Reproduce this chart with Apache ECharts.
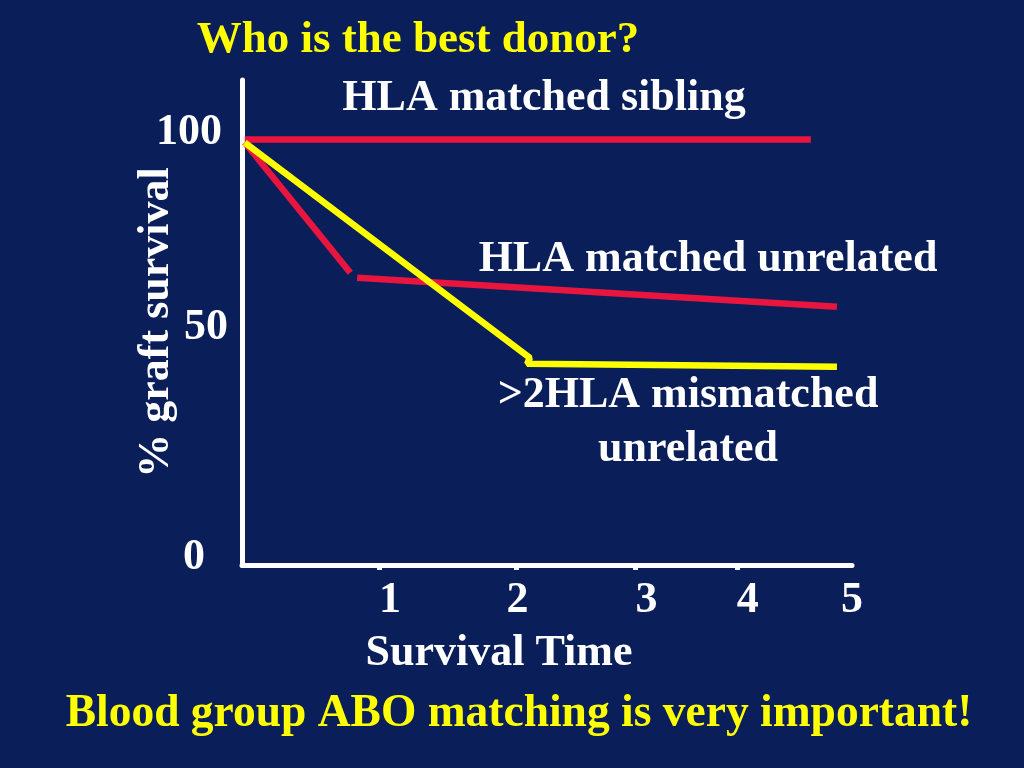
<!DOCTYPE html>
<html>
<head>
<meta charset="utf-8">
<script src="https://cdn.jsdelivr.net/npm/echarts@6/dist/echarts.min.js"></script>
<style>
html,body{margin:0;padding:0;background:#0a1e5a;}
#chart{width:1024px;height:768px;}
</style>
</head>
<body>
<div id="chart"></div>
<script>
// Series data: [time position on axis, % graft survival]
const siblingData   = [[0.02, 100], [4.15, 100]];
const unrelatedData = [[0.02, 99.3], [0.79, 68.7], [0.8, null], [0.84, 67.5], [4.34, 60.7]];
const mismatchData  = [[0.02, 99.3], [2.10, 48.7], [2.08, 47.3], [4.34, 46.6]];

// Axis tick positions (schematic, non-uniform) and labels
const xTickPos   = [1, 2, 2.87, 3.61, 4.47];
const xLabelPos  = [1.08, 2.01, 2.95, 3.69, 4.45];
const xLabels    = ['1', '2', '3', '4', '5'];
const yLabelPos  = [1.7, 55.8, 101.7];
const yLabels    = ['0', '50', '100'];
const yLabelStyle = ['p0', 'p50', 'p100'];

const serif = '"Liberation Serif","Times New Roman",serif';
const FS = 44;
const chart = echarts.init(document.getElementById('chart'));

function lookupIdx(posArr, v) {
  for (let i = 0; i < posArr.length; i++) {
    if (Math.abs(posArr[i] - v) < 1e-6) return i;
  }
  return -1;
}
const yRichBase = { color: '#ffffff', fontFamily: serif, fontWeight: 'bold', fontSize: FS };

chart.setOption({
  backgroundColor: '#0a1e5a',
  animation: false,
  title: [
    { text: 'Who is the best donor?', left: 413, top: 13, textAlign: 'center',
      textStyle: { color: '#ffff00', fontFamily: serif, fontWeight: 'bold', fontSize: 45 } },
    { text: 'Blood group ABO matching is very important!', left: 514, top: 686, textAlign: 'center',
      textStyle: { color: '#ffff00', fontFamily: serif, fontWeight: 'bold', fontSize: 45.5 } }
  ],
  grid: { left: 242, right: 172, top: 80, bottom: 203, containLabel: false },
  xAxis: {
    type: 'value', min: 0, max: 4.45,
    splitLine: { show: false },
    axisLine: { show: true, lineStyle: { color: '#ffffff', width: 5 } },
    axisTick: { show: true, customValues: xTickPos, length: 5, lineStyle: { color: '#ffffff', width: 5 } },
    axisLabel: {
      customValues: xLabelPos, margin: 14,
      formatter: v => { const i = lookupIdx(xLabelPos, v); return i < 0 ? '' : xLabels[i]; },
      color: '#ffffff', fontFamily: serif, fontWeight: 'bold', fontSize: FS
    },
    name: 'Survival Time', nameLocation: 'middle', nameGap: 67,
    nameTextStyle: { color: '#ffffff', fontFamily: serif, fontWeight: 'bold', fontSize: FS, padding: [0, 96, 0, 0] }
  },
  yAxis: {
    type: 'value', min: 0, max: 114,
    splitLine: { show: false },
    axisLine: { show: true, lineStyle: { color: '#ffffff', width: 5 } },
    axisTick: { show: false },
    axisLabel: {
      customValues: yLabelPos, margin: 14,
      formatter: v => { const i = lookupIdx(yLabelPos, v); return i < 0 ? '' : '{' + yLabelStyle[i] + '|' + yLabels[i] + '}'; },
      color: '#ffffff', fontFamily: serif, fontWeight: 'bold', fontSize: FS,
      rich: {
        p0:   Object.assign({ padding: [0, 23, 0, 0] }, yRichBase),
        p50:  Object.assign({ padding: [0, 0, 0, 0] }, yRichBase),
        p100: Object.assign({ padding: [0, 6, 0, 0] }, yRichBase)
      }
    },
    name: '% graft survival', nameLocation: 'middle', nameGap: 63, nameRotate: 90,
    nameMoveOverlap: false,
    nameTextStyle: { color: '#ffffff', fontFamily: serif, fontWeight: 'bold', fontSize: FS }
  },
  series: [
    { name: 'HLA matched sibling', type: 'line', data: siblingData, showSymbol: false,
      lineStyle: { color: '#e8163f', width: 6.5 }, z: 3 },
    { name: 'HLA matched unrelated', type: 'line', data: unrelatedData, showSymbol: false, connectNulls: false,
      lineStyle: { color: '#e8163f', width: 6.5 }, z: 3 },
    { name: '>2HLA mismatched unrelated', type: 'line', data: mismatchData, showSymbol: false,
      lineStyle: { color: '#ffff00', width: 6.5 }, z: 4 }
  ],
  graphic: [
    { type: 'text', x: 544, y: 99, style: { text: 'HLA matched sibling', fill: '#ffffff',
      align: 'center', verticalAlign: 'middle', font: 'bold ' + FS + 'px ' + serif } },
    { type: 'text', x: 708, y: 260, style: { text: 'HLA matched unrelated', fill: '#ffffff',
      align: 'center', verticalAlign: 'middle', font: 'bold ' + FS + 'px ' + serif } },
    { type: 'text', x: 688, y: 396, style: { text: '>2HLA mismatched', fill: '#ffffff',
      align: 'center', verticalAlign: 'middle', font: 'bold ' + FS + 'px ' + serif } },
    { type: 'text', x: 688, y: 450, style: { text: 'unrelated', fill: '#ffffff',
      align: 'center', verticalAlign: 'middle', font: 'bold ' + FS + 'px ' + serif } }
  ]
});
</script>
</body>
</html>
